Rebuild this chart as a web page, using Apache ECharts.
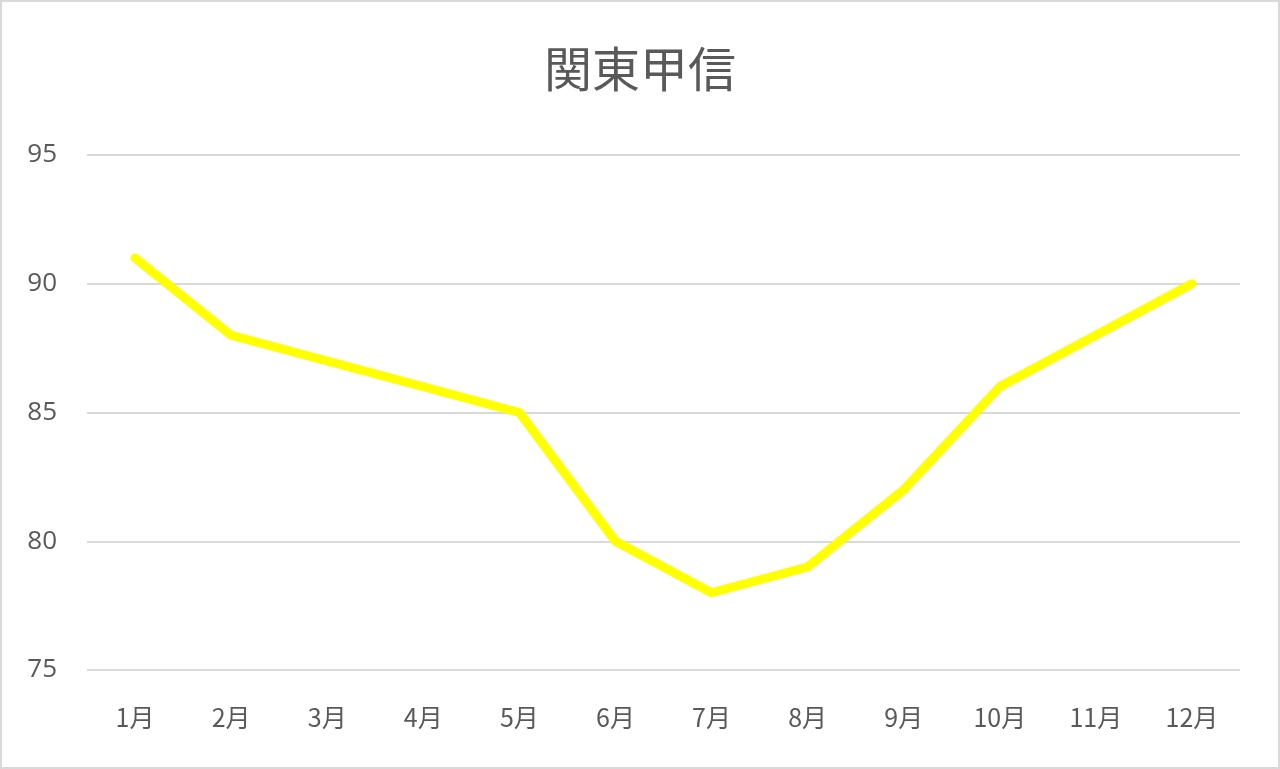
<!DOCTYPE html>
<html><head><meta charset="utf-8">
<script src="https://cdn.jsdelivr.net/npm/echarts@6/dist/echarts.min.js"></script>
<style>html,body{margin:0;padding:0;background:#fff;}
#c{position:absolute;left:0;top:0;width:1276px;height:765px;border:2px solid #d9d9d9;}</style>
</head><body><div id="c"></div>
<script>
const titleText = '関東甲信';
const categories = ['1月','2月','3月','4月','5月','6月','7月','8月','9月','10月','11月','12月'];
const values = [91, 88, 87, 86, 85, 80, 78, 79, 82, 86, 88, 90];
const yTicks = {min: 75, max: 95, interval: 5};
const chart = echarts.init(document.getElementById('c'));
chart.setOption({
  animation: false,
  title: {text: titleText, left: 'center', top: 38,
    textStyle: {fontFamily: 'Noto Sans CJK JP', fontSize: 48, fontWeight: 'normal', color: '#595959'}},
  grid: {left: 85, right: 38, top: 153, bottom: 97},
  xAxis: {type: 'category', data: categories, boundaryGap: true,
    axisLine: {show: false}, axisTick: {show: false},
    axisLabel: {color: '#595959', fontSize: 25, margin: 35, fontFamily: 'Noto Sans CJK JP'}},
  yAxis: {type: 'value', min: yTicks.min, max: yTicks.max, interval: yTicks.interval,
    axisLine: {show: false}, axisTick: {show: false},
    axisLabel: {color: '#595959', fontSize: 26, margin: 30, fontFamily: 'Open Sans'},
    splitLine: {lineStyle: {color: '#d9d9d9', width: 2}}},
  series: [{type: 'line', data: values, symbol: 'none',
    lineStyle: {color: '#ffff00', width: 9, cap: 'round', join: 'round'}}]
});
</script></body></html>
